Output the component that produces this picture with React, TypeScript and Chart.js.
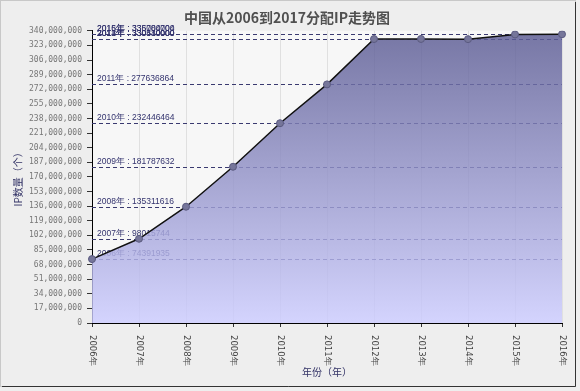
import { useEffect, useRef } from 'react';
import { Chart, registerables } from 'chart.js';

Chart.register(...registerables);

const years = ['2006年', '2007年', '2008年', '2009年', '2010年', '2011年', '2012年', '2013年', '2014年', '2015年', '2016年'];
const ipCounts = [74391935, 98015744, 135311616, 181787632, 232446464, 277636864, 330440000, 330530000, 330310000, 335784704, 336000000];
const yMin = 0;
const yMax = 340000000;
const yStep = 17000000;
const chartTitle = '中国从2006到2017分配IP走势图';
const xTitle = '年份（年）';
const yTitle = 'IP数量（个）';

export default function App() {
  const ref = useRef<HTMLCanvasElement>(null);

  useEffect(() => {
    const canvas = ref.current;
    if (!canvas) return;

    const framePlugin = {
      id: 'frame',
      beforeDraw(chart: any) {
        const { ctx, width, height, chartArea } = chart;
        ctx.save();
        ctx.fillStyle = '#eeeeee';
        ctx.fillRect(0, 0, width, height);
        ctx.fillStyle = '#f7f7f7';
        ctx.fillRect(chartArea.left, chartArea.top, chartArea.right - chartArea.left, chartArea.bottom - chartArea.top);
        ctx.strokeStyle = '#c8c8c8';
        ctx.lineWidth = 1;
        ctx.strokeRect(0.5, 0.5, width - 5, height - 5);
        ctx.strokeStyle = '#333333';
        ctx.beginPath();
        ctx.moveTo(2, height - 4.5);
        ctx.lineTo(width - 4.5, height - 4.5);
        ctx.lineTo(width - 4.5, 2);
        ctx.stroke();
        ctx.restore();
      },
    };

    const yearLinesPlugin = {
      id: 'yearLines',
      beforeDatasetsDraw(chart: any) {
        const { ctx, chartArea, scales } = chart;
        const yScale = scales.y;
        ctx.save();
        ctx.font = "8.5px 'Liberation Sans', Arial, sans-serif";
        ctx.textAlign = 'left';
        ctx.textBaseline = 'bottom';
        ipCounts.forEach((v, i) => {
          const y = Math.round(yScale.getPixelForValue(v)) + 0.5;
          ctx.strokeStyle = '#3a3a70';
          ctx.lineWidth = 1;
          ctx.setLineDash([4, 3]);
          ctx.beginPath();
          ctx.moveTo(chartArea.left, y);
          ctx.lineTo(chartArea.right, y);
          ctx.stroke();
          ctx.setLineDash([]);
          ctx.fillStyle = '#33336e';
          ctx.fillText(`${years[i]} : ${v}`, chartArea.left + 5, y - 2);
        });
        ctx.restore();
      },
    };

    const xLabelsPlugin = {
      id: 'xLabels',
      afterDraw(chart: any) {
        const { ctx, chartArea, scales } = chart;
        const xScale = scales.x;
        ctx.save();
        ctx.font = "8.5px 'DejaVu Sans', sans-serif";
        ctx.fillStyle = '#444444';
        ctx.textAlign = 'left';
        ctx.textBaseline = 'middle';
        xScale.ticks.forEach((t: any, i: number) => {
          const x = xScale.getPixelForTick(i);
          ctx.save();
          ctx.translate(x, chartArea.bottom + 12);
          ctx.rotate(Math.PI / 2);
          ctx.fillText(String(xScale.getLabelForValue(t.value)), 0, 0);
          ctx.restore();
        });
        ctx.restore();
      },
    };

    const chart = new Chart(canvas, {
      type: 'line',
      data: {
        labels: years,
        datasets: [
          {
            data: ipCounts,
            borderColor: '#111111',
            borderWidth: 1.5,
            tension: 0,
            fill: 'origin',
            backgroundColor: (c: any) => {
              const ca = c.chart.chartArea;
              if (!ca) return 'rgba(120,120,180,0.8)';
              const g = c.chart.ctx.createLinearGradient(0, ca.top, 0, ca.bottom);
              g.addColorStop(0, 'rgba(90,90,146,0.82)');
              g.addColorStop(1, 'rgba(204,204,255,0.82)');
              return g;
            },
            pointRadius: 3.5,
            pointBackgroundColor: '#76769a',
            pointBorderColor: '#5a5a80',
            pointBorderWidth: 1,
          },
        ],
      },
      options: {
        animation: false,
        responsive: false,
        maintainAspectRatio: false,
        devicePixelRatio: 1,
        layout: { padding: { top: 0, left: 12, right: 18, bottom: 13 } },
        plugins: {
          legend: { display: false },
          tooltip: { enabled: false },
          title: {
            display: true,
            text: chartTitle,
            color: '#505050',
            font: { size: 14, weight: 'bold', family: "'Noto Sans CJK SC', sans-serif" },
            padding: { top: 9, bottom: 5 },
          },
        },
        scales: {
          x: {
            type: 'category',
            offset: false,
            ticks: { display: false },
            grid: { color: '#e0e0e0', tickColor: '#333333', tickLength: 4 },
            border: { color: '#000000', width: 1 },
            title: {
              display: true,
              text: xTitle,
              color: '#333366',
              font: { size: 10, family: "'Noto Sans CJK SC', sans-serif" },
              padding: 0,
            },
            afterFit: (scale: any) => {
              scale.height = 55;
            },
          },
          y: {
            min: yMin,
            max: yMax,
            ticks: {
              stepSize: yStep,
              autoSkip: false,
              color: '#777777',
              padding: 5,
              font: { size: 8, family: "'DejaVu Sans Mono', monospace" },
              callback: (v: any) => Number(v).toLocaleString('en-US'),
            },
            grid: { drawOnChartArea: false, tickColor: '#333333', tickLength: 5 },
            border: { color: '#000000', width: 1 },
            title: {
              display: true,
              text: yTitle,
              color: '#333366',
              font: { size: 10, family: "'Noto Sans CJK SC', sans-serif" },
              padding: 0,
            },
            afterFit: (scale: any) => {
              scale.width = 80;
            },
          },
        },
      },
      plugins: [framePlugin, yearLinesPlugin, xLabelsPlugin],
    });

    return () => chart.destroy();
  }, []);

  return (
    <div style={{ position: 'fixed', left: 0, top: 0, width: 580, height: 391 }}>
      <canvas ref={ref} width={580} height={391} style={{ width: 580, height: 391, display: 'block' }} />
    </div>
  );
}
